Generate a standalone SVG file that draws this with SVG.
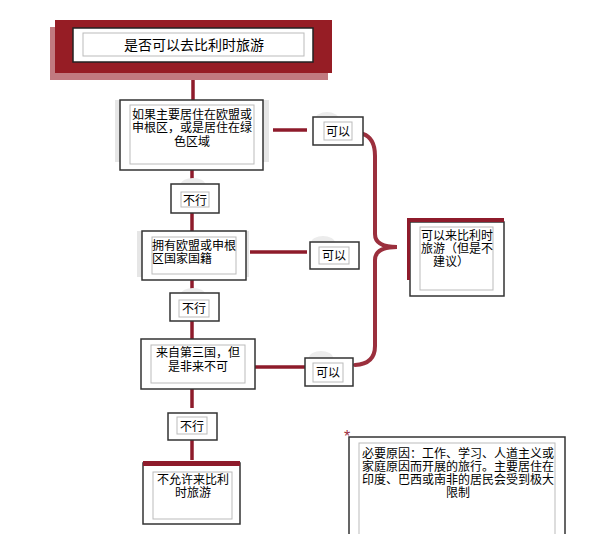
<svg xmlns="http://www.w3.org/2000/svg" width="609" height="534" viewBox="0 0 609 534">
<style>
text{font-family:"Noto Sans CJK SC","Liberation Sans",sans-serif;font-size:12px;fill:#000}
.t{font-size:14px}
.box{fill:#fff;stroke:#333;stroke-width:1.5}
.inner{fill:#fff;stroke:#bbb;stroke-width:1}
.sh{fill:#e6e6e6}
.blob{fill:#ececec}
.con{stroke:#8e1b2b;stroke-width:3.5;fill:none}
.brace{stroke:#9b2f3d;stroke-width:4;fill:none;stroke-linecap:round}
.red{fill:#8e1b2b}
</style>
<rect width="609" height="534" fill="#fff"/>
<g id="connectors">
<line class="con" x1="193" y1="80" x2="193" y2="100"/>
<line class="con" x1="192" y1="170" x2="192" y2="186"/>
<line class="con" x1="192" y1="213" x2="192" y2="231"/>
<line class="con" x1="192" y1="280" x2="192" y2="294"/>
<line class="con" x1="192" y1="321" x2="192" y2="339"/>
<line class="con" x1="192" y1="389" x2="192" y2="408"/>
<line class="con" x1="192" y1="440" x2="192" y2="460"/>
<line class="con" x1="273" y1="130" x2="307" y2="130"/>
<line class="con" x1="250" y1="252" x2="307" y2="252"/>
<line class="con" x1="255" y1="367" x2="305" y2="367"/>
<path class="brace" d="M363,134 Q375,138 375,156 L375,234 Q375,247 397,247 Q375,247 375,260 L375,346 Q375,364 355,365"/>
</g>
<g id="title">
<rect x="50" y="27" width="278" height="53" fill="#c17a80"/>
<rect x="55" y="20" width="277" height="53" fill="#961d25"/>
<rect x="73" y="28" width="240" height="34" fill="#fff" stroke="#222" stroke-width="1.5"/>
<rect class="inner" x="83" y="33" width="221" height="23"/>
<text class="t" x="194" y="50" text-anchor="middle">是否可以去比利时旅游</text>
</g>
<g id="q1">
<rect class="sh" x="115" y="100" width="154" height="62"/>
<rect class="box" x="120" y="100" width="143" height="70"/>
<rect class="inner" x="130" y="105" width="124" height="59"/>
<text text-anchor="middle"><tspan x="192" y="118.5">如果主要居住在欧盟或</tspan><tspan x="192" y="132">申根区，或是居住在绿</tspan><tspan x="192" y="145.5">色区域</tspan></text>
</g>
<g id="yes1">
<ellipse class="blob" cx="327" cy="120" rx="12" ry="8"/>
<rect class="box" x="313" y="117" width="50" height="28"/>
<rect class="inner" x="324" y="122" width="28" height="18"/>
<text x="338" y="135.5" text-anchor="middle">可以</text>
</g>
<g id="no1">
<ellipse class="blob" cx="193" cy="184" rx="12" ry="6"/>
<rect class="box" x="171" y="184" width="48" height="29"/>
<rect class="inner" x="181" y="192" width="28" height="15"/>
<text x="195" y="204.5" text-anchor="middle">不行</text>
</g>
<g id="q2">
<rect class="sh" x="137" y="231" width="112" height="46"/>
<rect class="box" x="142" y="231" width="104" height="49"/>
<rect class="inner" x="152" y="237" width="84" height="37"/>
<text><tspan x="152" y="249.5">拥有欧盟或申根</tspan><tspan x="152" y="262.5">区国家国籍</tspan></text>
</g>
<g id="yes2">
<ellipse class="blob" cx="323" cy="243" rx="12" ry="7"/>
<rect class="box" x="310" y="242" width="49" height="27"/>
<rect class="inner" x="319" y="247" width="30" height="17"/>
<text x="334" y="259.5" text-anchor="middle">可以</text>
</g>
<g id="no2">
<ellipse class="blob" cx="193" cy="294" rx="12" ry="6"/>
<rect class="box" x="170" y="293" width="49" height="28"/>
<rect class="inner" x="179" y="300" width="30" height="17"/>
<text x="194" y="312.5" text-anchor="middle">不行</text>
</g>
<g id="q3">
<rect class="box" x="141" y="339" width="114" height="50"/>
<rect class="inner" x="151" y="345" width="94" height="38"/>
<text text-anchor="middle"><tspan x="198" y="357">来自第三国，但</tspan><tspan x="198" y="371">是非来不可</tspan></text>
</g>
<g id="yes3">
<ellipse class="blob" cx="321" cy="358" rx="12" ry="7"/>
<rect class="box" x="305" y="358" width="48" height="28"/>
<rect class="inner" x="313" y="363" width="30" height="19"/>
<text x="328" y="376.5" text-anchor="middle">可以</text>
</g>
<g id="no3">
<rect class="box" x="168" y="413" width="49" height="27"/>
<rect class="inner" x="177" y="417" width="30" height="17"/>
<text x="192" y="430.5" text-anchor="middle">不行</text>
</g>
<g id="deny">
<rect class="box" x="143" y="463" width="97" height="61"/>
<rect class="red" x="143" y="461" width="97" height="5"/>
<rect class="inner" x="153" y="472" width="79" height="47"/>
<text text-anchor="middle"><tspan x="193" y="484">不允许来比利</tspan><tspan x="193" y="497">时旅游</tspan></text>
</g>
<g id="allow">
<rect class="box" x="410" y="222" width="94" height="74"/>
<rect class="red" x="407" y="218" width="97" height="4"/>
<rect class="red" x="407" y="218" width="3" height="62"/>
<rect class="inner" x="420" y="227" width="73" height="63"/>
<text><tspan x="421" y="239.5">可以来比利时</tspan><tspan x="421" y="252.5">旅游（但是不</tspan><tspan x="433" y="266">建议）</tspan></text>
</g>
<g id="note">
<text x="344" y="442" style="font-family:'Liberation Sans',sans-serif;font-size:16px;fill:#9b2f3d">*</text>
<rect class="box" x="349" y="437" width="216" height="100"/>
<rect class="inner" x="359" y="443" width="196" height="95"/>
<text text-anchor="middle"><tspan x="458" y="457.5">必要原因：工作、学习、人道主义或</tspan><tspan x="458" y="470.5">家庭原因而开展的旅行。主要居住在</tspan><tspan x="458" y="483.5">印度、巴西或南非的居民会受到极大</tspan><tspan x="458" y="496.5">限制</tspan></text>
</g>
</svg>
